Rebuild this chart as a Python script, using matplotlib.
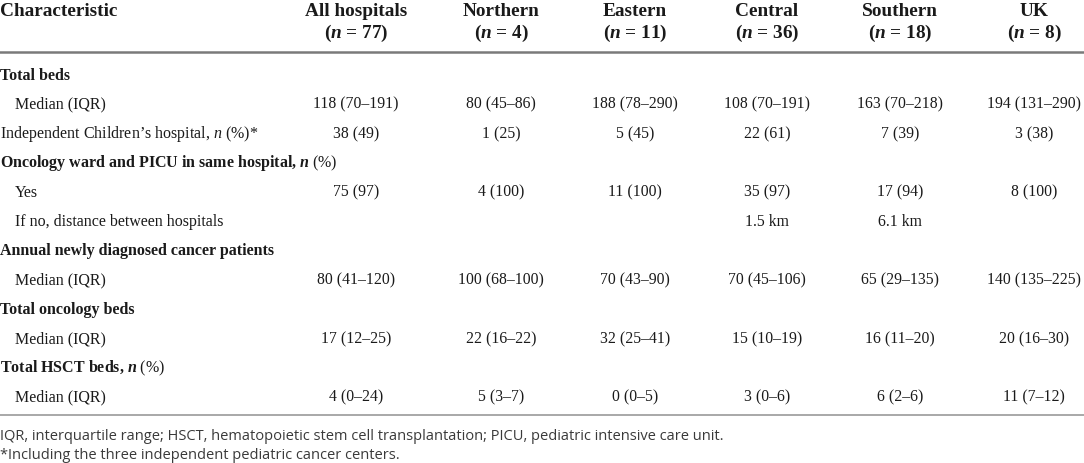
import matplotlib.pyplot as plt

plt.rcParams["mathtext.fontset"] = "custom"
plt.rcParams["mathtext.rm"] = "Liberation Serif"
plt.rcParams["mathtext.it"] = "Liberation Serif:italic"
plt.rcParams["mathtext.bf"] = "Liberation Serif:bold"
plt.rcParams["mathtext.bfit"] = "Liberation Serif:italic:bold"

# table content
groups = ["All hospitals", "Northern", "Eastern", "Central", "Southern", "UK"]
group_n = [77, 4, 11, 36, 18, 8]

row_labels = [
    "Total beds",
    "Median (IQR)",
    "Independent Children\u2019s hospital, $\\mathit{n}$ (%)*",
    "Oncology ward and PICU in same hospital, $\\mathbfit{n}\\ \\mathrm{(\\%)}$",
    "Yes",
    "If no, distance between hospitals",
    "Annual newly diagnosed cancer patients",
    "Median (IQR)",
    "Total oncology beds",
    "Median (IQR)",
    "Total HSCT beds, $\\mathbfit{n}\\ \\mathrm{(\\%)}$",
    "Median (IQR)",
]
row_kind = ["head", "sub", "plain", "head", "sub", "sub",
            "head", "sub", "head", "sub", "head", "sub"]

total_beds = ["118 (70\u2013191)", "80 (45\u201386)", "188 (78\u2013290)",
              "108 (70\u2013191)", "163 (70\u2013218)", "194 (131\u2013290)"]
independent = ["38 (49)", "1 (25)", "5 (45)", "22 (61)", "7 (39)", "3 (38)"]
same_hospital = ["75 (97)", "4 (100)", "11 (100)", "35 (97)", "17 (94)", "8 (100)"]
distance = ["", "", "", "1.5 km", "6.1 km", ""]
new_patients = ["80 (41\u2013120)", "100 (68\u2013100)", "70 (43\u201390)",
                "70 (45\u2013106)", "65 (29\u2013135)", "140 (135\u2013225)"]
oncology_beds = ["17 (12\u201325)", "22 (16\u201322)", "32 (25\u201341)",
                 "15 (10\u201319)", "16 (11\u201320)", "20 (16\u201330)"]
hsct_beds = ["4 (0\u201324)", "5 (3\u20137)", "0 (0\u20135)",
             "3 (0\u20136)", "6 (2\u20136)", "11 (7\u201312)"]

row_values = [None, total_beds, independent, None, same_hospital, distance,
              None, new_patients, None, oncology_beds, None, hsct_beds]

footnotes = [
    "IQR, interquartile range; HSCT, hematopoietic stem cell transplantation; "
    "PICU, pediatric intensive care unit.",
    "*Including the three independent pediatric cancer centers.",
]

# layout (pixels)
W, H = 1084, 464
col_x = [356, 501, 635, 767, 900, 1034]
row_y0, row_dy = 75.5, 29.3
ink = "#1a1a1a"
serif = "Liberation Serif"

fig = plt.figure(figsize=(W / 100, H / 100), dpi=100)
ax = fig.add_axes([0, 0, 1, 1])
ax.set_xlim(0, W)
ax.set_ylim(H, 0)
ax.axis("off")

# header
ax.text(0, 15.5, "Characteristic", ha="left", va="baseline", fontsize=13.9,
        fontweight="bold", family=serif, color=ink)
for x, g, n in zip(col_x, groups, group_n):
    ax.text(x, 15.5, g, ha="center", va="baseline", fontsize=13.9,
            fontweight="bold", family=serif, color=ink)
    ax.text(x, 37.5, f"($\\mathbfit{{n}}$ = {n})", ha="center", va="baseline",
            fontsize=13.9, fontweight="bold", family=serif, color=ink)
ax.axhline(53, color="#7a7a7a", lw=1.8)

# body
for i, (lab, kind, vals) in enumerate(zip(row_labels, row_kind, row_values)):
    y = row_y0 + i * row_dy
    x0 = 15 if kind == "sub" else 0
    ax.text(x0, y, lab, ha="left", va="center", fontsize=11.5, family=serif,
            fontweight="bold" if kind == "head" else "normal", color=ink)
    if vals is None:
        continue
    for x, v in zip(col_x, vals):
        ax.text(x, y, v, ha="center", va="center", fontsize=11.3,
                family=serif, color=ink)
ax.axhline(416, color="#9a9a9a", lw=1.2)

# footnotes
for j, note in enumerate(footnotes):
    ax.text(0, 436.5 + j * 19.5, note, ha="left", va="center", fontsize=10.5,
            family="Open Sans", color="#3a3a3a")

fig.savefig("out.png", dpi=100)
